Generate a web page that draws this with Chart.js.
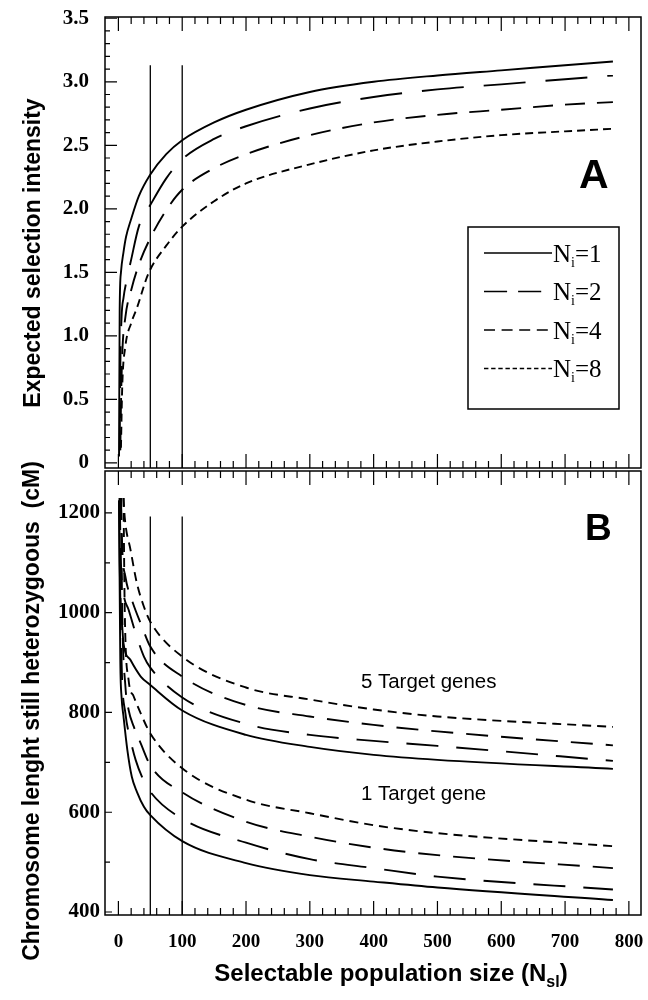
<!DOCTYPE html>
<html>
<head>
<meta charset="utf-8">
<title>Selection intensity and heterozygous chromosome length</title>
<script src="https://cdn.jsdelivr.net/npm/chart.js@4.4.1/dist/chart.umd.min.js"></script>
<style>
  html, body { margin: 0; padding: 0; background: #fff; }
  #wrap { position: relative; width: 648px; height: 1000px; }
  #wrap canvas { position: absolute; left: 0; top: 0; }
</style>
</head>
<body>
<div id="wrap">
  <canvas id="chartA" width="648" height="1000"></canvas>
  <canvas id="chartB" width="648" height="1000"></canvas>
</div>
<script>
// Axis ranges and tick labels
const xRange = [-21, 819];
const yRangeA = [-0.04, 3.51];
const yRangeB = [394, 1284];
const xTicks = [0, 100, 200, 300, 400, 500, 600, 700, 800];
const xTickLabels = ['0', '100', '200', '300', '400', '500', '600', '700', '800'];
const yTicksA = [0, 0.5, 1, 1.5, 2, 2.5, 3, 3.5];
const yTickLabelsA = ['0', '0.5', '1.0', '1.5', '2.0', '2.5', '3.0', '3.5'];
const yTicksB = [400, 600, 800, 1000, 1200];
const yTickLabelsB = ['400', '600', '800', '1000', '1200'];

const seriesNi = ['1', '2', '4', '8'];
const dashA = [[], [42, 20], [20, 12], [8, 5]];
const dashB = [[], [32, 18], [22, 13], [9, 6]];

// Panel A: expected selection intensity, one curve per N_i
const a1x = [1, 2, 4, 8, 12, 20, 32, 50, 75, 100, 150, 200, 300, 400, 500, 600, 700, 775];
const a1y = [0.05, 1.2, 1.5, 1.66, 1.78, 1.92, 2.1, 2.27, 2.43, 2.54, 2.68, 2.78, 2.92, 3.0, 3.05, 3.09, 3.13, 3.16];
const a2x = [2, 3, 5, 8, 13, 20, 32, 50, 75, 100, 150, 200, 300, 400, 500, 600, 700, 775];
const a2y = [0.1, 0.75, 1.15, 1.3, 1.44, 1.6, 1.86, 2.03, 2.24, 2.39, 2.55, 2.65, 2.79, 2.88, 2.94, 2.98, 3.02, 3.05];
const a4x = [3, 4, 6, 11, 20, 32, 50, 75, 100, 150, 200, 300, 400, 500, 600, 700, 775];
const a4y = [0.1, 0.45, 0.85, 1.15, 1.36, 1.56, 1.77, 1.99, 2.15, 2.32, 2.43, 2.58, 2.68, 2.74, 2.78, 2.82, 2.84];
const a8x = [4, 6, 11, 20, 29, 47, 75, 100, 150, 200, 300, 400, 500, 600, 700, 775];
const a8y = [0.12, 0.6, 0.92, 1.1, 1.22, 1.49, 1.71, 1.86, 2.06, 2.2, 2.35, 2.46, 2.53, 2.58, 2.61, 2.63];

// Panel B: chromosome length still heterozygous (cM), 5 target genes
const up1x = [1, 2, 3, 6, 8, 19, 35, 50, 100, 200, 300, 400, 500, 775];
const up1y = [1225, 1100, 1030, 972, 939, 905, 872, 855, 804, 755, 731, 715, 705, 687];
const up2x = [2, 4, 8, 16, 27, 40, 50, 100, 200, 300, 400, 500, 775];
const up2y = [1230, 1100, 1039, 1006, 959, 912, 890, 830, 777, 755, 743, 733, 703];
const up4x = [4, 6, 11, 21, 37, 50, 100, 200, 300, 400, 500, 775];
const up4y = [1230, 1130, 1072, 1026, 972, 932, 872, 815, 792, 775, 762, 734];
const up8x = [8, 10, 19, 29, 40, 50, 100, 200, 300, 400, 500, 775];
const up8y = [1230, 1190, 1126, 1059, 1012, 982, 912, 850, 826, 806, 792, 771];

// Panel B: 1 target gene
const lo1x = [1, 2, 3, 5, 8, 14, 21, 29, 40, 50, 100, 200, 300, 400, 500, 775];
const lo1y = [1225, 1050, 900, 830, 792, 725, 671, 641, 611, 594, 542, 498, 474, 461, 449, 424];
const lo2x = [2, 4, 11, 19, 27, 37, 50, 100, 200, 300, 400, 500, 775];
const lo2y = [1230, 950, 798, 745, 705, 671, 641, 587, 539, 506, 488, 471, 445];
const lo4x = [4, 6, 11, 16, 24, 35, 50, 100, 200, 300, 400, 500, 775];
const lo4y = [1230, 1000, 852, 805, 772, 738, 694, 640, 581, 551, 529, 514, 488];
const lo8x = [8, 10, 16, 24, 35, 50, 100, 200, 300, 400, 500, 775];
const lo8y = [1230, 1000, 865, 832, 798, 758, 688, 625, 598, 574, 558, 532];

// Reference lines at N_sl = 50 and 100
const markerX = [50, 100];
const markerTopA = 3.13;
const markerTopB = 1193;

const notes = ['5 Target genes', '1 Target gene'];
const noteX = [380, 380];
const noteY = [861, 635];

const SANS = '"Liberation Sans", Arial, sans-serif';
const SERIF = '"Liberation Serif", "Times New Roman", serif';

function pts(xs, ys) {
  return xs.map((x, i) => ({ x, y: ys[i] }));
}

function curve(xs, ys, dash) {
  return {
    data: pts(xs, ys), borderColor: '#000', borderWidth: 1.9, borderDash: dash,
    pointRadius: 0, cubicInterpolationMode: 'monotone', fill: false
  };
}

function marker(x, yTop, yBottom) {
  return { data: [{ x, y: yTop }, { x, y: yBottom }], borderColor: '#000', borderWidth: 1.3, pointRadius: 0 };
}

function noPad(s) {
  s.paddingTop = 0; s.paddingBottom = 0; s.paddingLeft = 0; s.paddingRight = 0;
}

function scalesFor(yRange, yTicks, yLabels, yPad, showX) {
  return {
    x: {
      type: 'linear', min: xRange[0], max: xRange[1],
      grid: { display: false, drawTicks: false }, border: { display: false },
      afterBuildTicks: s => { s.ticks = xTicks.map(v => ({ value: v })); },
      afterFit: s => { s.height = showX ? 85 : 0; noPad(s); },
      ticks: {
        display: showX, padding: 16, autoSkip: false, maxRotation: 0, color: '#000',
        font: { family: SERIF, weight: 'bold', size: 19 },
        callback: (v, i) => xTickLabels[i]
      }
    },
    y: {
      type: 'linear', min: yRange[0], max: yRange[1],
      grid: { display: false, drawTicks: false }, border: { display: false },
      afterBuildTicks: s => { s.ticks = yTicks.map(v => ({ value: v })); },
      afterFit: s => { s.width = 105; noPad(s); },
      ticks: {
        padding: yPad, autoSkip: false, color: '#000',
        font: { family: SERIF, weight: 'bold', size: 21 },
        callback: (v, i) => yLabels[i]
      }
    }
  };
}

// box round the plot area plus inward tick marks
const frame = {
  id: 'frame',
  afterDatasetsDraw(chart, args, o) {
    const { ctx, chartArea: a, scales: { x, y } } = chart;
    ctx.save();
    ctx.strokeStyle = '#000';
    ctx.lineWidth = 1.5;
    ctx.strokeRect(a.left, a.top, a.right - a.left, a.bottom - a.top);
    ctx.lineWidth = 1.2;
    ctx.beginPath();
    for (let i = 0; i <= 40; i++) {
      const px = x.getPixelForValue(i * 20);
      const len = i % 5 === 0 ? 14 : 7;
      ctx.moveTo(px, a.top); ctx.lineTo(px, a.top + len);
      ctx.moveTo(px, a.bottom); ctx.lineTo(px, a.bottom - len);
    }
    for (let i = 0; i <= o.yCount; i++) {
      const py = y.getPixelForValue(o.yFrom + i * o.yStep);
      const len = i % o.yMajorEvery === 0 ? o.yMajorLen : 5;
      ctx.moveTo(a.left, py); ctx.lineTo(a.left + len, py);
    }
    ctx.stroke();
    ctx.restore();
  }
};

function vText(ctx, text, cx, cy, font) {
  ctx.save();
  ctx.translate(cx, cy);
  ctx.rotate(-Math.PI / 2);
  ctx.font = font;
  ctx.textAlign = 'center';
  ctx.textBaseline = 'alphabetic';
  ctx.fillText(text, 0, 0);
  ctx.restore();
}

// text with a subscript part, left aligned at x on baseline y
function subText(ctx, parts, x, y) {
  parts.forEach(p => {
    ctx.font = p.font;
    ctx.fillText(p.t, x, y + (p.dy || 0));
    x += ctx.measureText(p.t).width;
  });
}

const decorA = {
  id: 'decorA',
  afterDraw(chart) {
    const { ctx, chartArea: a, scales: { x, y } } = chart;
    ctx.save();
    ctx.fillStyle = '#000';
    vText(ctx, 'Expected selection intensity', 40, 253, 'bold 23px ' + SANS);

    ctx.font = 'bold 41px ' + SANS;
    ctx.textAlign = 'center';
    ctx.textBaseline = 'middle';
    ctx.fillText('A', x.getPixelForValue(745), y.getPixelForValue(2.25));

    // legend
    const left = a.right - 173, top = a.top + 210;
    ctx.strokeStyle = '#000';
    ctx.lineWidth = 1.5;
    ctx.strokeRect(left, top, 151, 182);
    ctx.textAlign = 'left';
    ctx.textBaseline = 'alphabetic';
    seriesNi.forEach((ni, i) => {
      const ry = top + 26 + i * 38.5;
      ctx.lineWidth = 1.3;
      ctx.setLineDash(i === 0 ? [] : dashA[i].map(d => d * 0.55));
      ctx.beginPath();
      ctx.moveTo(left + 16, ry);
      ctx.lineTo(left + 84, ry);
      ctx.stroke();
      ctx.setLineDash([]);
      subText(ctx, [
        { t: 'N', font: '25px ' + SERIF },
        { t: 'i', font: '14px ' + SERIF, dy: 5 },
        { t: '=' + ni, font: '25px ' + SERIF }
      ], left + 85, ry + 8.5);
    });
    ctx.restore();
  }
};

const decorB = {
  id: 'decorB',
  afterDraw(chart) {
    const { ctx, scales: { x, y } } = chart;
    ctx.save();
    ctx.fillStyle = '#000';
    vText(ctx, 'Chromosome lenght still heterozygoous  (cM)', 39, 711, 'bold 23px ' + SANS);

    // x axis title with subscript
    const parts = [
      { t: 'Selectable population size (N', font: 'bold 24px ' + SANS },
      { t: 'sl', font: 'bold 16px ' + SANS, dy: 6 },
      { t: ')', font: 'bold 24px ' + SANS }
    ];
    let w = 0;
    parts.forEach(p => { ctx.font = p.font; w += ctx.measureText(p.t).width; });
    ctx.textAlign = 'left';
    ctx.textBaseline = 'alphabetic';
    subText(ctx, parts, 391 - w / 2, 981);

    ctx.font = '20.5px ' + SANS;
    ctx.textBaseline = 'middle';
    notes.forEach((t, i) => ctx.fillText(t, x.getPixelForValue(noteX[i]), y.getPixelForValue(noteY[i])));

    ctx.font = 'bold 37px ' + SANS;
    ctx.textAlign = 'center';
    ctx.fillText('B', x.getPixelForValue(752), y.getPixelForValue(1166));
    ctx.restore();
  }
};

const common = {
  responsive: false,
  animation: false,
  events: [],
  plugins: { legend: { display: false }, tooltip: { enabled: false } }
};

new Chart(document.getElementById('chartA'), {
  type: 'line',
  data: {
    datasets: [
      curve(a1x, a1y, dashA[0]),
      curve(a2x, a2y, dashA[1]),
      curve(a4x, a4y, dashA[2]),
      curve(a8x, a8y, dashA[3]),
      ...markerX.map(m => marker(m, markerTopA, yRangeA[0]))
    ]
  },
  options: {
    ...common,
    layout: { padding: { top: 17, right: 7, bottom: 532, left: 0 } },
    scales: scalesFor(yRangeA, yTicksA, yTickLabelsA, 16, false),
    plugins: { ...common.plugins, frame: { yFrom: 0, yStep: 0.1, yCount: 35, yMajorEvery: 5, yMajorLen: 12 } }
  },
  plugins: [frame, decorA]
});

new Chart(document.getElementById('chartB'), {
  type: 'line',
  data: {
    datasets: [
      curve(up1x, up1y, dashB[0]),
      curve(up2x, up2y, dashB[1]),
      curve(up4x, up4y, dashB[2]),
      curve(up8x, up8y, dashB[3]),
      curve(lo1x, lo1y, dashB[0]),
      curve(lo2x, lo2y, dashB[1]),
      curve(lo4x, lo4y, dashB[2]),
      curve(lo8x, lo8y, dashB[3]),
      ...markerX.map(m => marker(m, markerTopB, yRangeB[0]))
    ]
  },
  options: {
    ...common,
    layout: { padding: { top: 471, right: 7, bottom: 0, left: 0 } },
    scales: scalesFor(yRangeB, yTicksB, yTickLabelsB, 5, true),
    plugins: { ...common.plugins, frame: { yFrom: 400, yStep: 100, yCount: 8, yMajorEvery: 2, yMajorLen: 7 } }
  },
  plugins: [frame, decorB]
});
</script>
</body>
</html>
